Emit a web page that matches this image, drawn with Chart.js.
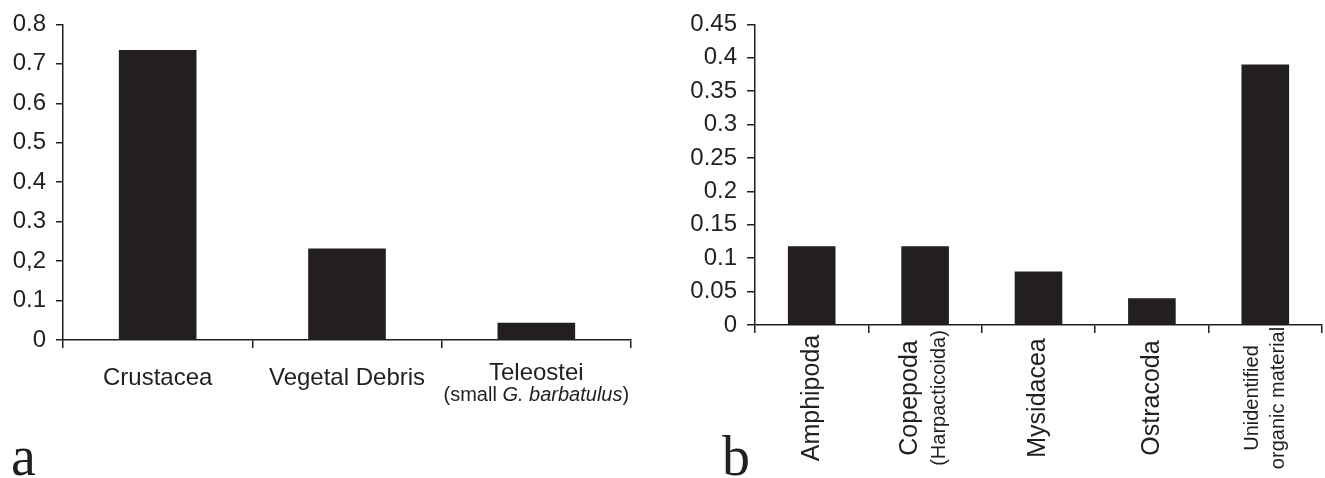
<!DOCTYPE html>
<html>
<head>
<meta charset="utf-8">
<script src="https://cdn.jsdelivr.net/npm/chart.js@4.4.1/dist/chart.umd.min.js"></script>
<style>
  html, body { margin: 0; padding: 0; background: #fff; }
  body { width: 1325px; height: 478px; position: relative; overflow: hidden; }
  .panel { position: absolute; top: 0; height: 478px; }
  #panelA { left: 0; width: 660px; }
  #panelB { left: 660px; width: 665px; }
  .tag { position: absolute; font-family: 'Liberation Serif', 'DejaVu Serif', serif; font-size: 56px; line-height: 1; color: #231f20; }
</style>
</head>
<body>
<div class="panel" id="panelA"><canvas id="chartA"></canvas></div>
<div class="panel" id="panelB"><canvas id="chartB"></canvas></div>
<div class="tag" style="left:11px; top:428px;">a</div>
<div class="tag" style="left:722px; top:428px;">b</div>

<script>
// panel a - diet categories
const dietA     = ['Crustacea', 'Vegetal Debris', 'Teleostei'];
const dietANote = ['', '', '(small |G. barbatulus|)'];   // text between | is italic
const shareA    = [0.735, 0.232, 0.044];
const yTicksA   = ['0', '0.1', '0,2', '0.3', '0.4', '0.5', '0.6', '0.7', '0.8'];

// panel b - crustacean prey
const preyB     = ['Amphipoda', 'Copepoda', 'Mysidacea', 'Ostracoda', 'Unidentified'];
const preyBNote = ['', '(Harpacticoida)', '', '', 'organic material'];
const shareB    = [0.118, 0.118, 0.08, 0.04, 0.39];
const yTicksB   = ['0', '0.05', '0.1', '0.15', '0.2', '0.25', '0.3', '0.35', '0.4', '0.45'];

const ink  = '#231f20';
const sans = "'Liberation Sans', Arial, sans-serif";

Chart.defaults.font.family = sans;
Chart.defaults.color = ink;

const toNum = s => parseFloat(s.replace(',', '.'));

function yAxis(labels, width, tickLen) {
    return {
        min: 0,
        max: toNum(labels[labels.length - 1]),
        afterBuildTicks: s => { s.ticks = labels.map(t => ({ value: toNum(t) })); },
        afterFit: s => { s.width = width; },
        ticks: { callback: (v, i) => labels[i], font: { size: 24 }, color: ink, padding: 10 },
        grid: { drawOnChartArea: false, drawTicks: true, tickLength: tickLen, color: ink, lineWidth: 1.5 },
        border: { display: true, color: ink, width: 1.5 }
    };
}

function xAxis(height) {
    return {
        afterFit: s => { s.height = height; },
        ticks: { display: false },
        grid: { drawOnChartArea: false, drawTicks: true, tickLength: 8, color: ink, lineWidth: 1.5, offset: true },
        border: { display: true, color: ink, width: 1.5 }
    };
}

// horizontal category labels for panel a
const labelsA = {
    id: 'labelsA',
    afterDraw(chart) {
        const ctx = chart.ctx;
        const x = chart.scales.x;
        ctx.save();
        ctx.fillStyle = ink;
        ctx.textBaseline = 'alphabetic';
        dietA.forEach((name, i) => {
            const cx = x.getPixelForValue(i);
            const note = dietANote[i];
            ctx.font = '24px ' + sans;
            ctx.textAlign = 'center';
            ctx.fillText(name, cx, note ? 380 : 385);
            if (!note) return;
            const parts = note.split('|');
            const fonts = parts.map((p, k) => (k % 2 ? 'italic ' : '') + '20px ' + sans);
            let total = 0;
            parts.forEach((p, k) => { ctx.font = fonts[k]; total += ctx.measureText(p).width; });
            let px = cx - total / 2;
            ctx.textAlign = 'left';
            parts.forEach((p, k) => {
                ctx.font = fonts[k];
                ctx.fillText(p, px, 401);
                px += ctx.measureText(p).width;
            });
        });
        ctx.restore();
    }
};

// rotated category labels for panel b
const labelsB = {
    id: 'labelsB',
    afterDraw(chart) {
        const ctx = chart.ctx;
        const x = chart.scales.x;
        ctx.save();
        ctx.fillStyle = ink;
        ctx.textAlign = 'center';
        ctx.textBaseline = 'middle';
        preyB.forEach((name, i) => {
            const cx = x.getPixelForValue(i);
            const note = preyBNote[i];
            const mainSize = name === 'Unidentified' ? 20 : 25;
            const lines = note ? [[name, mainSize], [note, 20]] : [[name, mainSize]];
            const gap = note ? (mainSize + 20) / 2 * 1.3 : 0;
            lines.forEach(([t, size], k) => {
                const lx = cx + (k - (lines.length - 1) / 2) * gap;
                ctx.save();
                ctx.translate(lx, 398);
                ctx.rotate(-Math.PI / 2);
                ctx.font = size + 'px ' + sans;
                ctx.fillText(t, 0, 0);
                ctx.restore();
            });
        });
        ctx.restore();
    }
};

function barChart(id, cats, vals, yLabels, opts) {
    return new Chart(document.getElementById(id), {
        type: 'bar',
        data: {
            labels: cats,
            datasets: [{
                data: vals,
                backgroundColor: ink,
                borderWidth: 0,
                barPercentage: opts.bar,
                categoryPercentage: 1
            }]
        },
        options: {
            responsive: true,
            maintainAspectRatio: false,
            animation: false,
            devicePixelRatio: 1,
            layout: { padding: { top: 23, right: opts.right, left: 0, bottom: 0 } },
            plugins: { legend: { display: false }, tooltip: { enabled: false } },
            scales: {
                x: xAxis(opts.xHeight),
                y: yAxis(yLabels, opts.yWidth, opts.tick)
            }
        },
        plugins: [opts.labels]
    });
}

barChart('chartA', dietA, shareA, yTicksA, { bar: 0.41, right: 29, xHeight: 138, yWidth: 63, tick: 7, labels: labelsA });
barChart('chartB', preyB, shareB, yTicksB, { bar: 0.42, right: 3, xHeight: 153, yWidth: 95, tick: 8, labels: labelsB });
</script>
</body>
</html>
